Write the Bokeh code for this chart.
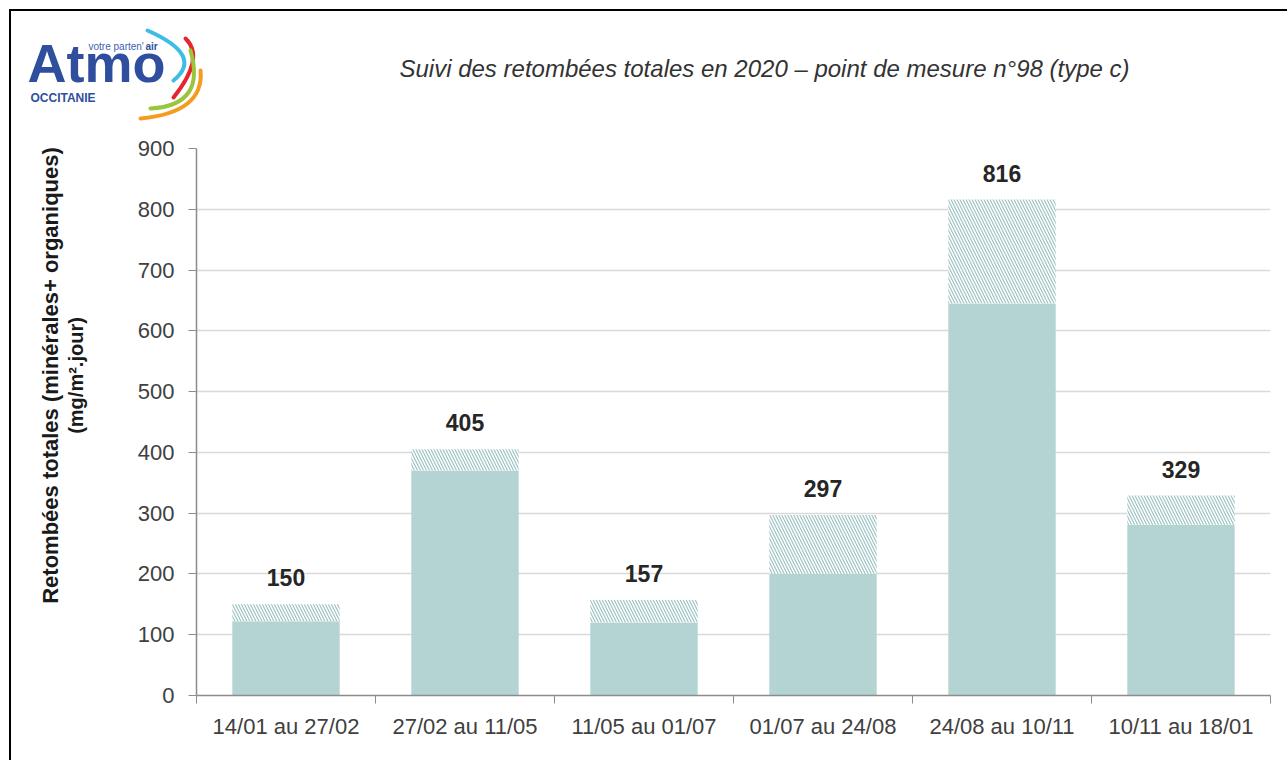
import numpy as np
from bokeh.plotting import figure
from bokeh.layouts import column, row
from bokeh.models import Range1d, FixedTicker, Label, ColumnDataSource
from bokeh.core.properties import value
from bokeh.embed import file_html
from bokeh.resources import INLINE

# ---- data ----
categories = ["14/01 au 27/02", "27/02 au 11/05", "11/05 au 01/07",
              "01/07 au 24/08", "24/08 au 10/11", "10/11 au 18/01"]
totals = [150, 405, 157, 297, 816, 329]
minerals = [122, 370, 120, 200, 645, 281]
y_ticks = [0, 100, 200, 300, 400, 500, 600, 700, 800, 900]
title_text = "Suivi des retombées totales en 2020 \u2013 point de mesure n°98 (type c)"
ylabel_1 = "Retombées totales (minérales+ organiques)"
ylabel_2 = "(mg/m².jour)"

FONT = "Liberation Sans"
SOLID = "#b3d4d3"
HATCH = "#9dc2c2"

OX, OY = 11, 11          # page position of the content origin
W = 1276
TOP_H = 115
MAIN_H = 634
YL_W = 100


def bare(fig):
    fig.axis.visible = False
    fig.grid.visible = False
    fig.frame_align = False
    return fig


# ---- top strip: logo + title ----
top = bare(figure(width=W, height=TOP_H, output_backend="svg", toolbar_location=None,
                  x_range=Range1d(0, W), y_range=Range1d(0, TOP_H),
                  min_border=0, outline_line_color=None))


def X(x):
    return x - OX


def Y(y):
    return (OY + TOP_H) - y


arcs = [((147, 30), (204, 55), (173, 80), "#3dbde6"),
        ((185, 38), (205, 57), (173, 97), "#e3262f"),
        ((190, 50), (206, 105), (150, 108), "#9bc53d"),
        ((200, 70), (204, 112), (140, 118), "#f39c1f")]
for p0, c, p1, col in arcs:
    top.quadratic(x0=[X(p0[0])], y0=[Y(p0[1])], x1=[X(p1[0])], y1=[Y(p1[1])],
                  cx=[X(c[0])], cy=[Y(c[1])], line_color=col, line_width=4,
                  line_cap="round")

top.add_layout(Label(x=X(27), y=Y(62), text="Atmo", text_font=FONT,
                     text_font_style="bold", text_font_size="54px",
                     text_color="#2f4f9e", text_baseline="middle"))
top.add_layout(Label(x=X(88), y=Y(46), text="votre parten'", text_font=FONT,
                     text_font_size="10px", text_color="#3a63b0",
                     text_baseline="middle"))
top.add_layout(Label(x=X(145), y=Y(46), text="air", text_font=FONT,
                     text_font_style="bold", text_font_size="10px",
                     text_color="#2f4f9e", text_baseline="middle"))
top.add_layout(Label(x=X(30), y=Y(97), text="OCCITANIE", text_font=FONT,
                     text_font_style="bold", text_font_size="12px",
                     text_color="#2f4f9e", text_baseline="middle"))
top.add_layout(Label(x=X(764), y=Y(68), text=title_text, text_font=FONT,
                     text_font_style="italic", text_font_size="24px",
                     text_color="#333333", text_align="center",
                     text_baseline="middle"))

# ---- y-axis title strip ----
ylab = bare(figure(width=YL_W, height=MAIN_H, output_backend="svg",
                   toolbar_location=None, x_range=Range1d(0, YL_W),
                   y_range=Range1d(0, MAIN_H), min_border=0,
                   outline_line_color=None))
YB = OY + TOP_H + MAIN_H
ylab.text(x=[50 - OX, 75 - OX], y=[YB - 375, YB - 375], text=[ylabel_1, ylabel_2],
          angle=np.pi / 2, text_align="center", text_baseline="middle",
          text_font=value(FONT), text_font_style="bold",
          text_font_size=["22px", "20px"], text_color="#1a1a1a")

# ---- main chart ----
n = len(categories)
xs = [i + 0.5 for i in range(n)]
src = ColumnDataSource(dict(x=xs, total=totals, mineral=minerals,
                            label=[str(t) for t in totals]))

left0 = OX + YL_W
p = figure(width=W - YL_W, height=MAIN_H, output_backend="svg", toolbar_location=None,
           x_range=Range1d(0, n), y_range=Range1d(0, 900),
           min_border_left=196 - left0, min_border_right=(W - YL_W) - (1270 - left0),
           min_border_top=148 - (OY + TOP_H),
           min_border_bottom=MAIN_H - (695 - (OY + TOP_H)),
           outline_line_color=None)
p.frame_align = False

p.vbar(x="x", width=0.6, bottom=0, top="mineral", source=src,
       fill_color=SOLID, line_color=None)
p.vbar(x="x", width=0.6, bottom="mineral", top="total", source=src,
       fill_color="white", line_color=None, hatch_pattern="\\",
       hatch_color=HATCH, hatch_scale=6, hatch_weight=1.2)
p.text(x="x", y="total", text="label", source=src, text_align="center",
       text_baseline="bottom", y_offset=-18, text_font=value(FONT),
       text_font_style="bold", text_font_size="23px", text_color="#262626")

# y axis
p.yaxis.ticker = FixedTicker(ticks=y_ticks)
p.yaxis.major_label_text_font = FONT
p.yaxis.major_label_text_font_size = "22px"
p.yaxis.major_label_text_color = "#404040"
p.yaxis.axis_line_color = "#8c8c8c"
p.yaxis.axis_line_width = 1.5
p.yaxis.major_tick_line_color = "#8c8c8c"
p.yaxis.major_tick_out = 8
p.yaxis.major_tick_in = 0
p.yaxis.minor_tick_line_color = None
p.yaxis.major_label_standoff = 14

# x axis: labels at centres, ticks at category boundaries
p.xaxis.ticker = FixedTicker(ticks=xs, minor_ticks=list(range(n + 1)))
p.xaxis.major_label_overrides = {x: c for x, c in zip(xs, categories)}
p.xaxis.major_label_text_font = FONT
p.xaxis.major_label_text_font_size = "22px"
p.xaxis.major_label_text_color = "#404040"
p.xaxis.axis_line_color = "#8c8c8c"
p.xaxis.axis_line_width = 1.5
p.xaxis.major_tick_line_color = None
p.xaxis.major_tick_out = 0
p.xaxis.minor_tick_line_color = "#8c8c8c"
p.xaxis.minor_tick_out = 8
p.xaxis.minor_tick_in = 0
p.xaxis.major_label_standoff = 10

p.xgrid.visible = False
p.ygrid.ticker = FixedTicker(ticks=y_ticks)
p.ygrid.grid_line_color = "#d9d9d9"
p.ygrid.grid_line_width = 1.5

layout = column(top, row(ylab, p, spacing=0), spacing=0, margin=(9, 0, 0, 9),
                styles={"border-left": "2px solid black",
                        "border-top": "2px solid black"})

open("out.html", "w").write(file_html(layout, INLINE))
